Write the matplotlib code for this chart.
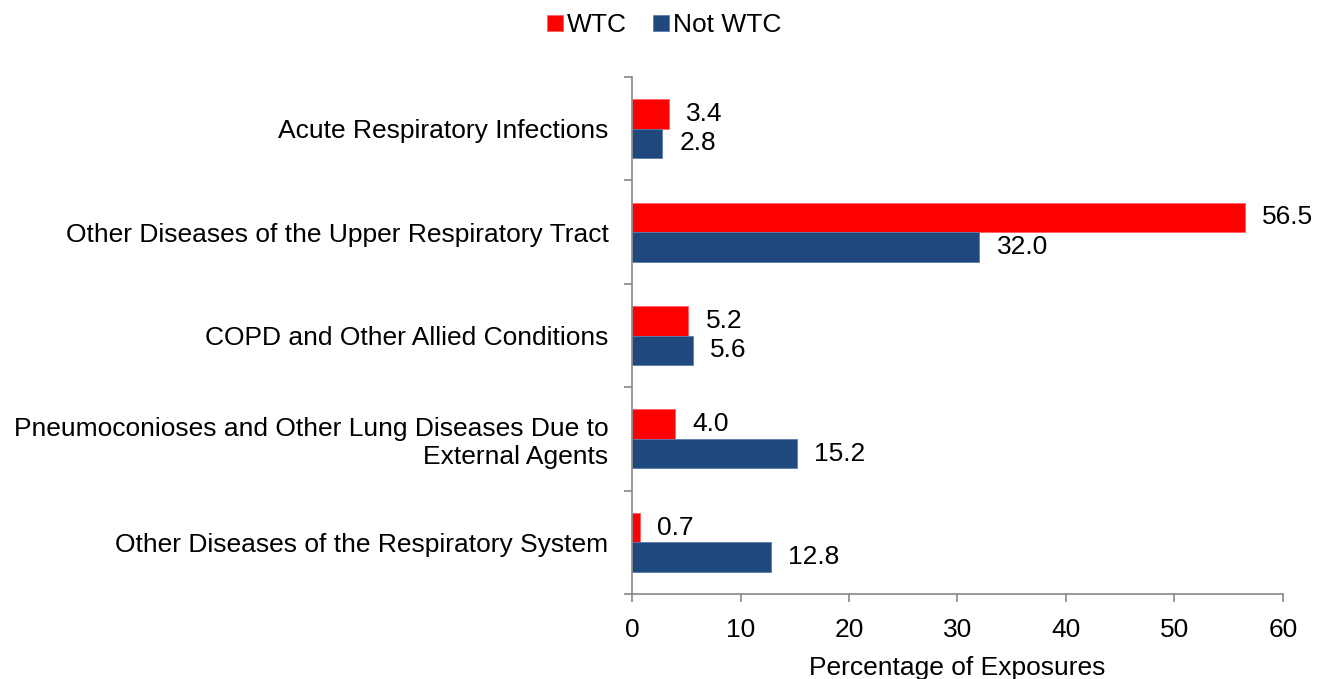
import matplotlib
matplotlib.use("Agg")
import matplotlib.pyplot as plt
import numpy as np

plt.rcParams['font.family'] = ['Liberation Sans', 'DejaVu Sans']

categories = [
    "Acute Respiratory Infections",
    "Other Diseases of the Upper Respiratory Tract",
    "COPD and Other Allied Conditions",
    "Pneumoconioses and Other Lung Diseases Due to\nExternal Agents",
    "Other Diseases of the Respiratory System",
]
wtc = [3.4, 56.5, 5.2, 4.0, 0.7]
not_wtc = [2.8, 32.0, 5.6, 15.2, 12.8]
x_ticks = [0, 10, 20, 30, 40, 50, 60]

RED = "#FF0000"
BLUE = "#1F497D"
GREY = "#888888"
FS = 19

fig = plt.figure(figsize=(13.28, 6.79), dpi=100)
ax = fig.add_axes([632 / 1328, 1 - 594 / 679, (1283 - 632) / 1328, (594 - 77) / 679])

pos = np.arange(len(categories)) + 0.5
h = 0.285
ax.barh(pos - h / 2, wtc, height=h, color=RED, edgecolor="#FF6060", linewidth=0.6, label="WTC")
ax.barh(pos + h / 2, not_wtc, height=h, color=BLUE, edgecolor="#5A7BAA", linewidth=0.6, label="Not WTC")

for y, v in zip(pos - h / 2, wtc):
    ax.annotate(f"{v:.1f}", (v, y), xytext=(12.5, 0), textcoords="offset points",
                va="center", ha="left", fontsize=FS)
for y, v in zip(pos + h / 2, not_wtc):
    ax.annotate(f"{v:.1f}", (v, y), xytext=(12.5, 0), textcoords="offset points",
                va="center", ha="left", fontsize=FS)

ax.set_ylim(len(categories), 0)
ax.set_xlim(0, 60)
ax.set_xticks(x_ticks)
ax.tick_params(axis="x", labelsize=FS, length=6, color=GREY, width=1.2, pad=11)

# category boundaries get the tick marks; labels sit at centres
ax.set_yticks(np.arange(len(categories) + 1))
ax.set_yticklabels([])
ax.set_yticks(pos, minor=True)
ax.set_yticklabels(categories, minor=True, fontsize=FS, ha="right")
ax.tick_params(axis="y", which="major", length=6, color=GREY, width=1.2)
ax.tick_params(axis="y", which="minor", length=0, pad=17)

for s in ["top", "right"]:
    ax.spines[s].set_visible(False)
for s in ["left", "bottom"]:
    ax.spines[s].set_color(GREY)
    ax.spines[s].set_linewidth(1.2)

ax.set_xlabel("Percentage of Exposures", fontsize=FS, labelpad=10)

fig.legend(loc="upper center", bbox_to_anchor=(0.5, 1.0), ncol=2, frameon=False,
           fontsize=FS, handlelength=0.6, handleheight=0.6, handletextpad=0.15,
           columnspacing=1.0, borderaxespad=0.1)

fig.savefig("out.png", dpi=100)
